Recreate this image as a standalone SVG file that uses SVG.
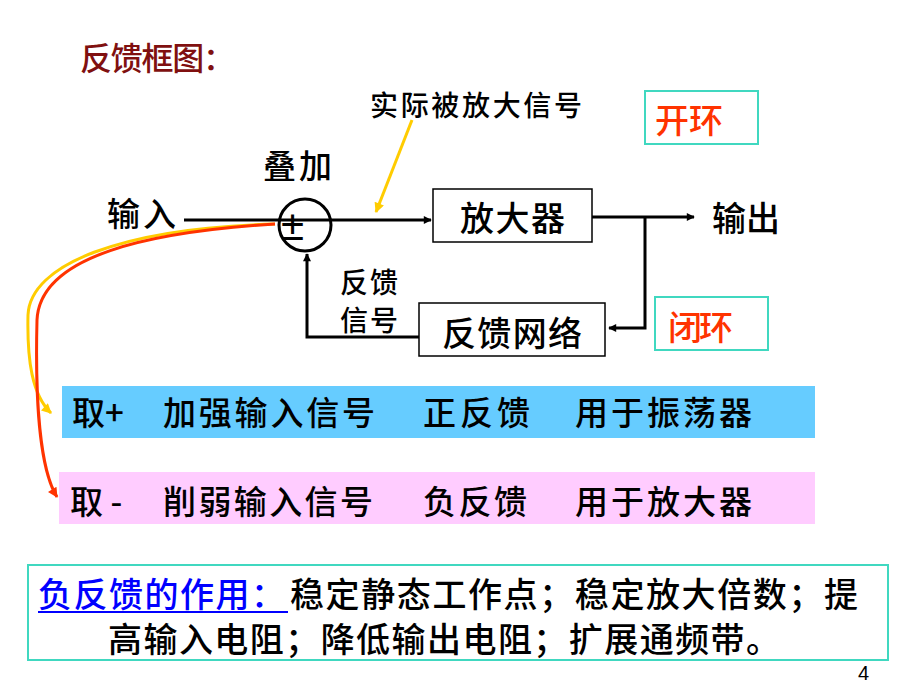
<svg xmlns="http://www.w3.org/2000/svg" width="920" height="690" viewBox="0 0 920 690">
<defs>
<style>
.t{font-family:"Noto Sans CJK SC","Noto Sans",sans-serif;fill:#000;font-weight:500}
.ln{stroke:#000;stroke-width:3;fill:none}
.box{fill:#fff;stroke:#000;stroke-width:1.5}
.tbox{fill:#fff;stroke:#40D8C0;stroke-width:2}
</style>
<marker id="ab" viewBox="0 0 10 10" refX="9" refY="5" markerWidth="10" markerHeight="8" markerUnits="userSpaceOnUse" orient="auto"><path d="M0,0 L10,5 L0,10 Z" fill="#000"/></marker>
<marker id="ay" viewBox="0 0 10 10" refX="9" refY="5" markerWidth="12" markerHeight="10" markerUnits="userSpaceOnUse" orient="auto"><path d="M0,0 L10,5 L0,10 Z" fill="#FFCC00"/></marker>
<marker id="ar" viewBox="0 0 10 10" refX="9" refY="5" markerWidth="12" markerHeight="10" markerUnits="userSpaceOnUse" orient="auto"><path d="M0,0 L10,5 L0,10 Z" fill="#FF3300"/></marker>
</defs>
<rect width="920" height="690" fill="#fff"/>

<text class="t" x="80" y="70" font-size="32" style="fill:#801010" textLength="155" lengthAdjust="spacing">反馈框图：</text>
<text class="t" x="370" y="116" font-size="28" textLength="212" lengthAdjust="spacing">实际被放大信号</text>
<text class="t" x="263" y="178" font-size="33" textLength="69" lengthAdjust="spacing">叠加</text>
<text class="t" x="107" y="226" font-size="33" textLength="69" lengthAdjust="spacing">输入</text>
<text class="t" x="712" y="231" font-size="34" textLength="68" lengthAdjust="spacing">输出</text>
<text class="t" x="340" y="293" font-size="28" textLength="58" lengthAdjust="spacing">反馈</text>
<text class="t" x="340" y="331" font-size="28" textLength="58" lengthAdjust="spacing">信号</text>

<g id="connectors">
<path class="ln" d="M184,220 H431" marker-end="url(#ab)"/>
<path class="ln" d="M592,217 H694" marker-end="url(#ab)"/>
<path class="ln" d="M645,217 V328 H609" marker-end="url(#ab)"/>
<path class="ln" d="M419,337 H307 V254" marker-end="url(#ab)"/>
<path d="M412,120 L376,212" stroke="#FFCC00" stroke-width="3" fill="none" marker-end="url(#ay)"/>
<path d="M275,224 C120,228 30,265 28,315 C27,360 32,395 51,413" stroke="#FFCC00" stroke-width="3" fill="none" marker-end="url(#ay)"/>
<path d="M275,224 C150,232 40,255 37,320 C35,400 40,470 57,497" stroke="#FF3300" stroke-width="3" fill="none" marker-end="url(#ar)"/>
</g>

<g id="sum">
<circle cx="305" cy="225" r="26" fill="none" stroke="#000" stroke-width="3"/>
<text x="281" y="240" font-family="Liberation Sans, sans-serif" font-size="42" fill="#000">±</text>
</g>

<g id="amp">
<rect class="box" x="433" y="189" width="159" height="53"/>
<text class="t" x="460" y="231" font-size="34" textLength="105" lengthAdjust="spacing">放大器</text>
</g>

<g id="fbnet">
<rect class="box" x="419" y="303" width="186" height="53"/>
<text class="t" x="442" y="346" font-size="34" textLength="140" lengthAdjust="spacing">反馈网络</text>
</g>

<g id="open">
<rect class="tbox" x="645" y="91" width="113" height="53"/>
<text class="t" x="655" y="133" font-size="34" style="fill:#FF3300" textLength="68" lengthAdjust="spacing">开环</text>
</g>

<g id="closed">
<rect class="tbox" x="655" y="297" width="113" height="53"/>
<text class="t" x="668" y="340" font-size="34" style="fill:#FF3300" textLength="65" lengthAdjust="spacing">闭环</text>
</g>

<g id="pos">
<rect x="62" y="386" width="753" height="52" fill="#66CCFF"/>
<text class="t" x="72" y="425" font-size="33">取+</text>
<text class="t" x="163" y="425" font-size="33" textLength="212" lengthAdjust="spacing">加强输入信号</text>
<text class="t" x="423" y="425" font-size="33" textLength="107" lengthAdjust="spacing">正反馈</text>
<text class="t" x="575" y="425" font-size="33" textLength="177" lengthAdjust="spacing">用于振荡器</text>
</g>

<g id="neg">
<rect x="59" y="472" width="756" height="52" fill="#FFCCFF"/>
<text class="t" x="70" y="514" font-size="33">取 -</text>
<text class="t" x="163" y="514" font-size="33" textLength="210" lengthAdjust="spacing">削弱输入信号</text>
<text class="t" x="423" y="514" font-size="33" textLength="104" lengthAdjust="spacing">负反馈</text>
<text class="t" x="575" y="514" font-size="33" textLength="177" lengthAdjust="spacing">用于放大器</text>
</g>

<g id="note">
<rect class="tbox" x="28" y="565" width="860" height="95"/>
<text class="t" x="38" y="607" font-size="34" style="fill:#0000FF" textLength="247" lengthAdjust="spacing">负反馈的作用：</text>
<path d="M38,612 H288" stroke="#0000FF" stroke-width="2"/>
<text class="t" x="290" y="607" font-size="34" textLength="568" lengthAdjust="spacing">稳定静态工作点；稳定放大倍数；提</text>
<text class="t" x="108" y="652" font-size="34" textLength="672" lengthAdjust="spacing">高输入电阻；降低输出电阻；扩展通频带。</text>
</g>

<text x="858" y="680" font-family="Liberation Sans, sans-serif" font-size="20" fill="#000">4</text>
</svg>
